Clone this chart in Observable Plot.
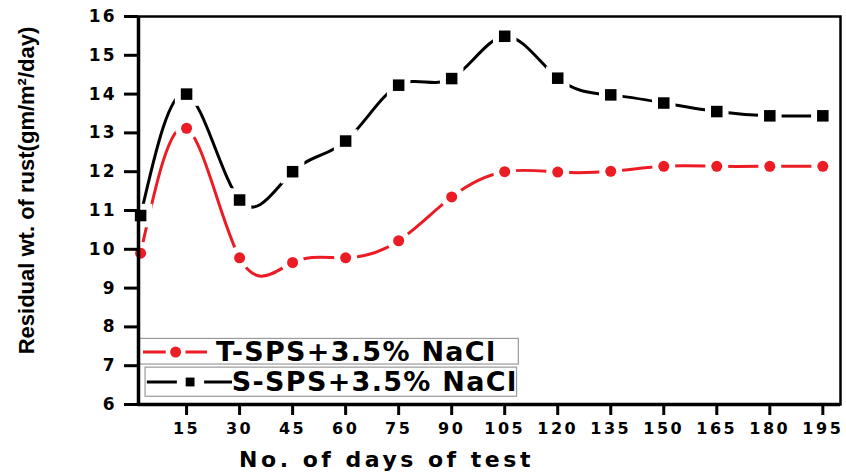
<!DOCTYPE html>
<html><head><meta charset="utf-8">
<script src="https://cdn.jsdelivr.net/npm/d3@7"></script>
<script src="https://cdn.jsdelivr.net/npm/@observablehq/plot@0.6"></script>
<style>
body{margin:0;background:#fff}
g[aria-label="x-axis tick label"] text{letter-spacing:2.5px}
g[aria-label="y-axis tick label"] text{letter-spacing:2px}
</style>
</head><body><div id="chart"></div>
<script>
const days = [2, 15, 30, 45, 60, 75, 90, 105, 120, 135, 150, 165, 180, 195];
const tSPS = [9.9, 13.12, 9.78, 9.66, 9.78, 10.22, 11.35, 12.0, 11.99, 12.01, 12.14, 12.14, 12.14, 12.14];
const sSPS = [10.87, 14.0, 11.27, 12.0, 12.79, 14.23, 14.4, 15.49, 14.41, 13.98, 13.77, 13.55, 13.44, 13.44];
const seriesNames = ["T-SPS+3.5% NaCl", "S-SPS+3.5% NaCl"];
const seriesColors = ["#ec1c24", "#000000"];
const xTicks = [15, 30, 45, 60, 75, 90, 105, 120, 135, 150, 165, 180, 195];
const yTicks = [6, 7, 8, 9, 10, 11, 12, 13, 14, 15, 16];
const xLabel = "No. of days of test";
const yLabel = "Residual wt. of rust(gm/m²/day)";

const tRows = days.map((d, i) => ({day: d, value: tSPS[i], series: seriesNames[0]}));
const sRows = days.map((d, i) => ({day: d, value: sSPS[i], series: seriesNames[1]}));

const xDom = [1.4, 200];
const bold = {fontWeight: "bold", fontFamily: "DejaVu Sans"};

const plot = Plot.plot({
  width: 846, height: 473,
  marginLeft: 138, marginRight: 6, marginTop: 16, marginBottom: 69,
  x: {domain: xDom},
  y: {domain: [6, 16]},
  style: {background: "white", color: "black"},
  marks: [
    // legend boxes
    Plot.rect([seriesNames[0]], {x1: 1.4, x2: 109, y1: 7.03, y2: 7.69, fill: "white", stroke: "#9a9a9a", strokeWidth: 1.2}),
    Plot.rect([seriesNames[1]], {x1: 3.4, x2: 108.5, y1: 6.2, y2: 6.95, fill: "white", stroke: "#9a9a9a", strokeWidth: 1.2}),
    // legend samples
    Plot.ruleY([7.35], {x1: 2.8, x2: 20.9, stroke: seriesColors[0], strokeWidth: 3}),
    Plot.dot([seriesNames[0]], {x: () => 11.9, y: () => 7.35, r: 5.5, fill: seriesColors[0], stroke: "white", strokeWidth: 9, paintOrder: "stroke"}),
    Plot.ruleY([6.58], {x1: 3.9, x2: 12.4, stroke: seriesColors[1], strokeWidth: 3}),
    Plot.ruleY([6.58], {x1: 20.1, x2: 28, stroke: seriesColors[1], strokeWidth: 3}),
    Plot.dot([seriesNames[1]], {x: () => 16.0, y: () => 6.58, r: 5, symbol: "square", fill: seriesColors[1]}),
    Plot.text(seriesNames, {x: (d, i) => [23.3, 27.8][i], y: (d, i) => [7.35, 6.58][i], text: d => d, textAnchor: "start", fontSize: 27, ...bold, fill: "black"}),
    // data lines
    Plot.line(tRows, {x: "day", y: "value", curve: "natural", stroke: seriesColors[0], strokeWidth: 3}),
    Plot.line(sRows, {x: "day", y: "value", curve: "natural", stroke: seriesColors[1], strokeWidth: 3}),
    Plot.dot(tRows, {x: "day", y: "value", r: 5.5, fill: seriesColors[0], stroke: "white", strokeWidth: 12, paintOrder: "stroke"}),
    Plot.dot(sRows, {x: "day", y: "value", r: 6.5, symbol: "square", fill: seriesColors[1], stroke: "white", strokeWidth: 12, paintOrder: "stroke"}),
    // frame and axes
    Plot.frame({stroke: "black", strokeWidth: 2.5}),
    Plot.ruleX([xDom[0]], {stroke: "black", strokeWidth: 3.5}),
    Plot.ruleY([6], {stroke: "black", strokeWidth: 3.5}),
    Plot.axisX({ticks: xTicks, tickSize: 11, tickPadding: 7, strokeWidth: 3, fontSize: 16, ...bold, label: null}),
    Plot.axisY({ticks: yTicks, tickSize: 14, tickPadding: 8, strokeWidth: 3, fontSize: 17, ...bold, label: null}),
    Plot.text([xLabel], {frameAnchor: "bottom", lineAnchor: "middle", dy: 55, dx: -103, text: d => d, fontSize: 22, ...bold, fill: "black"}),
    Plot.text([yLabel], {frameAnchor: "left", textAnchor: "middle", rotate: -90, dx: -112, dy: -20, text: d => d, fontSize: 22, fontWeight: "bold", fontFamily: "Liberation Sans", fill: "black"})
  ]
});
const svgSel = d3.select(plot);
svgSel.selectAll("text").filter(function() { return this.textContent === xLabel; }).style("letter-spacing", "3.5px");
svgSel.selectAll("text").filter(function() { return seriesNames.includes(this.textContent); }).style("letter-spacing", "1.3px");
document.getElementById("chart").append(plot);
</script>
</body></html>
